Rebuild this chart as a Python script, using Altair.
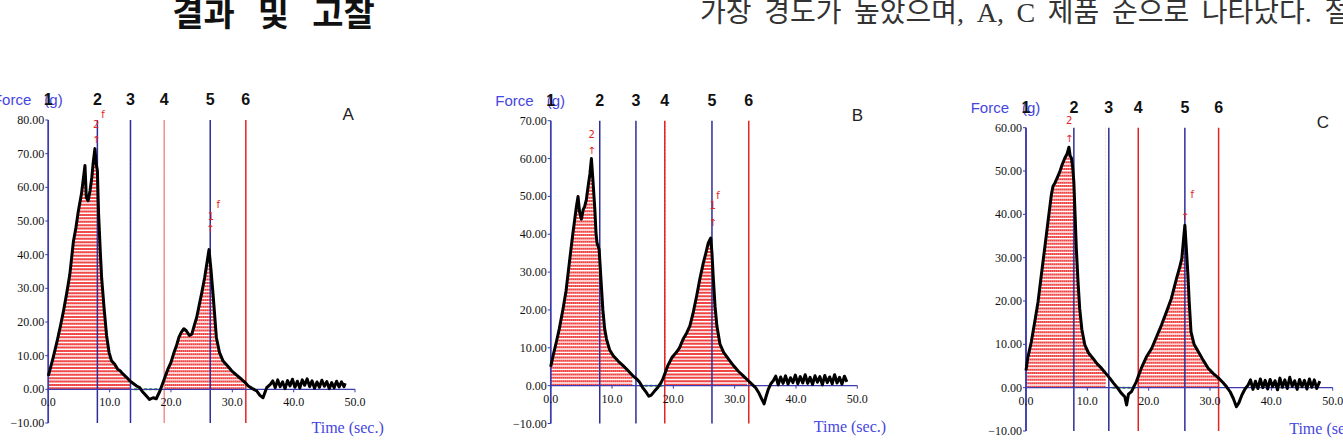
import altair as alt
import numpy as np
import pandas as pd

# ---------------- data ----------------
A_T = [0.0, 0.3, 0.8, 1.4, 2.0, 2.5, 3.0, 3.5, 4.1, 4.5, 4.9, 5.4, 5.98, 6.2, 6.5, 6.8, 7.1, 7.3, 7.6,
       7.8, 8.0, 8.2, 8.5, 8.7, 9.1, 9.5, 9.9, 10.3, 10.8, 11.3, 11.7, 12.2, 12.8, 13.3, 13.8, 14.4,
       14.9, 15.4, 16.0, 16.5, 17.1, 17.6, 18.2, 18.6, 19.0, 19.5, 20.0, 20.4, 20.9, 21.3, 21.7, 22.1,
       22.5, 23.0, 23.4, 23.8, 24.2, 24.6, 25.0, 25.5, 25.9, 26.2, 26.5, 26.9, 27.4, 27.9, 28.5, 29.2,
       29.9, 30.7, 31.5, 32.1, 32.6, 33.2, 34.0, 34.5, 35.0, 35.3, 35.6, 36.2, 36.6, 37.0, 37.4, 37.8,
       38.2, 38.6, 39.0, 39.4, 39.8, 40.2, 40.6, 41.0, 41.4, 41.8, 42.2, 42.6, 43.0, 43.4, 43.8, 44.2,
       44.6, 45.0, 45.4, 45.8, 46.2, 46.6, 47.0, 47.4, 47.8, 48.2, 48.4]
A_V = [4.0, 6.0, 9.5, 14.0, 19.0, 23.5, 28.5, 34.0, 44.0, 48.0, 53.0, 58.0, 66.5, 57.0, 56.0, 59.0, 63.0,
       67.0, 71.5, 67.0, 65.0, 52.0, 40.0, 33.0, 24.0, 16.0, 11.0, 8.5, 7.5, 6.0, 5.5, 4.5, 3.5, 2.5,
       1.8, 1.0, 0.5, -0.8, -2.0, -3.0, -2.5, -2.8, -0.5, 1.5, 3.5, 6.0, 8.0, 10.4, 13.0, 15.5, 17.0,
       18.0, 17.4, 16.0, 16.4, 19.0, 21.4, 25.0, 28.5, 33.3, 38.0, 41.5, 36.0, 27.3, 15.4, 11.0, 8.4,
       7.0, 5.5, 4.2, 3.0, 2.0, 1.0, 0.3, -0.5, -1.8, -2.5, -1.0, 0.5, 1.5, 2.5, 0.5, 2.8, 0.8, 2.2,
       0.2, 2.6, 1.0, 3.0, 0.6, 2.4, 0.4, 2.8, 1.2, 3.1, 0.8, 2.5, 0.3, 2.2, 0.6, 2.7, 0.9, 2.3, 0.2,
       2.0, 0.5, 2.4, 0.7, 2.2, 0.8, 1.8]

B_T = [0.0, 0.4, 0.9, 1.4, 2.0, 2.5, 3.1, 3.6, 4.2, 4.46, 4.7, 5.0, 5.3, 5.55, 5.8, 6.1, 6.4, 6.64, 6.9,
       7.2, 7.4, 7.56, 7.9, 8.2, 8.5, 8.8, 9.1, 9.6, 10.2, 11.0, 11.8, 12.6, 13.4, 14.0, 14.5, 15.0,
       15.6, 16.0, 16.4, 16.9, 17.5, 18.0, 18.3, 18.7, 19.1, 19.8, 20.5, 21.0, 21.6, 22.2, 22.7, 23.2,
       23.8, 24.3, 24.9, 25.3, 25.7, 26.1, 26.3, 26.5, 26.8, 27.1, 27.6, 28.2, 29.0, 29.8, 30.6, 31.4,
       32.1, 32.8, 33.4, 33.9, 34.4, 34.8, 35.1, 35.5, 35.9, 36.3, 36.7, 37.1, 37.5, 37.9, 38.3, 38.7,
       39.1, 39.5, 39.9, 40.3, 40.7, 41.1, 41.5, 41.9, 42.3, 42.7, 43.1, 43.5, 43.9, 44.3, 44.7, 45.1,
       45.5, 45.9, 46.3, 46.7, 47.1, 47.5, 47.9, 48.3]
B_V = [5.0, 8.0, 11.4, 15.0, 20.2, 25.0, 33.3, 40.0, 47.4, 50.0, 46.0, 44.0, 46.5, 47.4, 49.0, 52.6,
       56.0, 60.0, 54.0, 46.5, 40.0, 37.7, 36.0, 28.0, 20.2, 15.0, 12.3, 9.5, 7.9, 6.5, 5.3, 4.0, 2.6,
       1.8, 0.9, -0.5, -1.8, -2.8, -2.5, -1.5, -0.4, 0.8, 1.8, 3.5, 5.3, 7.5, 8.8, 10.0, 12.3, 14.0,
       15.8, 19.0, 23.7, 28.0, 32.5, 35.0, 37.7, 39.0, 35.0, 28.9, 21.0, 15.8, 11.0, 8.8, 7.0, 5.3,
       3.8, 2.6, 1.5, 0.4, -0.5, -1.8, -3.5, -4.8, -3.0, -0.9, 0.5, 1.3, 2.5, 0.2, 2.3, 0.6, 2.6, 0.4,
       2.1, 0.8, 2.8, 0.5, 2.4, 0.7, 2.9, 0.6, 2.2, 0.3, 2.6, 0.9, 2.4, 0.2, 2.7, 0.8, 2.3, 0.5, 2.9,
       0.7, 2.2, 0.4, 2.5, 1.0]

C_T = [0.0, 0.3, 0.87, 1.4, 1.96, 2.5, 3.05, 3.6, 4.13, 4.4, 4.7, 5.1, 5.5, 5.9, 6.3, 6.7, 7.0, 7.2,
       7.4, 7.6, 7.8, 8.0, 8.2, 8.5, 8.75, 9.1, 9.6, 10.2, 10.9, 11.6, 12.3, 13.0, 13.65, 14.3, 15.0,
       15.5, 16.1, 16.4, 16.7, 17.2, 17.6, 18.0, 18.4, 18.8, 19.6, 20.5, 21.3, 22.1, 22.9, 23.7, 24.5,
       25.0, 25.4, 25.65, 25.9, 26.1, 26.4, 26.6, 26.9, 27.4, 28.1, 28.9, 29.7, 30.5, 31.4, 32.1, 32.7,
       33.3, 33.8, 34.3, 34.7, 35.2, 35.7, 36.2, 36.6, 37.0, 37.4, 37.8, 38.2, 38.6, 39.0, 39.4, 39.8,
       40.2, 40.6, 41.0, 41.4, 41.8, 42.2, 42.6, 43.0, 43.4, 43.8, 44.2, 44.6, 45.0, 45.4, 45.8, 46.2,
       46.6, 47.0, 47.4, 47.9]
C_V = [4.0, 7.0, 10.6, 15.0, 19.8, 26.0, 32.2, 38.5, 44.5, 46.5, 47.2, 48.5, 49.8, 51.5, 52.9, 54.0,
       55.5, 53.5, 53.0, 51.0, 47.5, 40.0, 32.2, 24.0, 18.3, 13.5, 9.8, 8.0, 6.8, 5.5, 4.5, 3.3, 2.2,
       1.0, -0.2, -1.2, -2.1, -4.0, -1.5, -0.9, 0.3, 1.4, 3.0, 4.5, 7.0, 9.1, 11.8, 14.5, 17.5, 20.6,
       25.0, 27.5, 29.8, 33.7, 37.5, 33.0, 26.0, 20.0, 12.9, 10.0, 8.3, 6.3, 4.5, 3.3, 2.2, 1.2, 0.2,
       -1.0, -2.5, -4.4, -3.5, -1.7, -0.3, 0.6, 1.8, -0.4, 1.5, -0.2, 2.0, 0.0, 1.7, -0.3, 1.9, 0.2,
       1.6, -0.5, 2.2, 0.1, 1.8, -0.2, 2.4, 0.3, 1.6, -0.4, 1.9, 0.2, 1.7, -0.3, 2.0, 0.1, 1.8, -0.2,
       1.5]

LINE_LABELS = ["1", "2", "3", "4", "5", "6"]
A_LINE_T = [0.0, 8.0, 13.4, 18.9, 26.4, 32.2]
B_LINE_T = [0.0, 8.0, 13.9, 18.6, 26.3, 32.3]
C_LINE_T = [0.0, 7.8, 13.5, 18.3, 25.9, 31.4]
A_TOP, B_TOP, C_TOP = 80, 70, 60
X_TICKS = [0, 10, 20, 30, 40, 50]

# red peak annotations (time, force, text)
A_MARKS = [(7.8, 78.5, "2"), (7.8, 74.0, "↑"), (8.9, 81.5, "f"), (26.5, 51.3, "1"), (26.4, 47.5, "↑"), (27.7, 54.7, "f")]
B_MARKS = [(6.7, 66.3, "2"), (6.7, 62.0, "↑"), (26.4, 47.5, "1"), (26.4, 43.0, "↑"), (27.3, 50.0, "f")]
C_MARKS = [(7.05, 61.5, "2"), (7.05, 57.5, "↑"), (25.9, 39.5, "↑"), (27.1, 44.5, "f")]

GAP = "\u2009 "
HEAD_LEFT = "결과\u00a0\u00a0\u00a0및\u00a0\u00a0\u00a0고찰"
HEAD_RIGHT = GAP.join(["가장", "경도가", "높았으며,", "A,", "C", "제품", "순으로", "나타났다.", "절"])

# ---------------- styles ----------------
NAVY = "#2e2e98"
AXBLUE = "#3c3cb0"
RED = "#e42424"
PINK = "#f29090"
LBLUE = "#4646e0"
HATCH = "#f04444"


def panel(T, V, line_t, line_cols, top, xr, yr, letter_t, time_dy, marks, letter):
    xs = alt.Scale(domain=[0, 50], range=xr, nice=False, zero=False)
    ys = alt.Scale(domain=[-10, top], range=yr, nice=False, zero=False)
    ppu = abs(yr[0] - yr[1]) / (top + 10.0)      # pixels per force unit
    pps = abs(xr[1] - xr[0]) / 50.0              # pixels per second

    def X(f):
        return alt.X(f, type="quantitative", scale=xs, axis=None)

    def Y(f):
        return alt.Y(f, type="quantitative", scale=ys, axis=None, stack=False)

    curve = pd.DataFrame({"t": T, "v": V})

    regions = [(line_t[0], line_t[2]), (line_t[3], line_t[5])]
    masks, hatches = [], []
    for k, (s, e) in enumerate(regions):
        seg = curve[(curve.t >= s) & (curve.t <= e)].copy()
        seg["seg"] = k
        seg["top"] = float(top) + 1.5
        masks.append(seg)
        ts = np.arange(seg.t.min() + 0.1, seg.t.max(), 2.0 / pps)
        hatches.append(pd.DataFrame({"t": ts, "y0": 0.0, "y1": float(top)}))
    mask = pd.concat(masks, ignore_index=True)
    hatch = pd.concat(hatches, ignore_index=True)

    lines = pd.DataFrame({"t": line_t, "y0": -10.0, "y1": float(top), "c": line_cols,
                          "lab": LINE_LABELS, "top": float(top)})
    green = pd.DataFrame({"t0": [line_t[2] + 0.6], "t1": [line_t[3] - 0.4], "y": [0.0]})
    ann = pd.DataFrame(marks, columns=["t", "v", "s"])
    one = pd.DataFrame({"t": [0.0], "v": [float(top)]})
    letter_df = pd.DataFrame({"t": [letter_t], "v": [float(top)], "s": [letter]})
    time_df = pd.DataFrame({"t": [50.0], "v": [-10.0], "s": ["Time (sec.)"]})

    # axis pieces
    y_vals = [float(v) for v in range(-10, top + 1, 10)]
    dom = pd.DataFrame({"t": [0.0, 0.0], "t2": [0.0, 50.0], "v": [-10.0, 0.0], "v2": [float(top), 0.0]})
    yt = pd.DataFrame({"t": 0.0, "t2": -3.0 / pps, "v": y_vals})
    xt = pd.DataFrame({"t": [float(x) for x in X_TICKS], "v": 0.0, "v2": -3.0 / ppu})

    hatch_l = alt.Chart(hatch).mark_rule(color=HATCH, strokeWidth=2.0, strokeDash=[2.0, 1.4]).encode(
        x=X("t"), y=Y("y0"), y2="y1:Q")
    mask_l = alt.Chart(mask).mark_area(color="white", opacity=1).encode(
        x=X("t"), y=Y("v"), y2="top:Q", detail="seg:N")
    green_l = alt.Chart(green).mark_rule(color="#22aa22", strokeWidth=2, strokeDash=[3, 2]).encode(
        x=X("t0"), x2="t1:Q", y=Y("y"))
    vlines = alt.Chart(lines).mark_rule(strokeWidth=1.5).encode(
        x=X("t"), y=Y("y0"), y2="y1:Q", color=alt.Color("c:N", scale=None))
    dom_l = alt.Chart(dom).mark_rule(color=AXBLUE, strokeWidth=1.4).encode(
        x=X("t"), x2="t2:Q", y=Y("v"), y2="v2:Q")
    yt_l = alt.Chart(yt).mark_rule(color=AXBLUE, strokeWidth=1).encode(x=X("t2"), x2="t:Q", y=Y("v"))
    xt_l = alt.Chart(xt).mark_rule(color=AXBLUE, strokeWidth=1).encode(x=X("t"), y=Y("v"), y2="v2:Q")
    ylab = alt.Chart(pd.DataFrame({"t": 0.0, "v": y_vals})).mark_text(
        align="right", dx=-4, baseline="middle", font="Liberation Serif", fontSize=12, color="#111"
    ).encode(x=X("t"), y=Y("v"), text=alt.Text("v:Q", format=".2f"))
    xlab = alt.Chart(pd.DataFrame({"t": [float(x) for x in X_TICKS], "v": 0.0})).mark_text(
        align="center", dy=13, baseline="middle", font="Liberation Serif", fontSize=12, color="#111"
    ).encode(x=X("t"), y=Y("v"), text=alt.Text("t:Q", format=".1f"))
    curve_l = alt.Chart(curve).mark_line(color="black", strokeWidth=3.0, strokeJoin="round").encode(
        x=X("t"), y=Y("v"))
    ann_l = alt.Chart(ann).mark_text(color=RED, fontSize=10, font="DejaVu Sans", baseline="middle").encode(
        x=X("t"), y=Y("v"), text="s:N")
    force_l = alt.Chart(one).mark_text(text="Force", align="right", dx=-17, dy=-20, baseline="middle",
                                       font="Liberation Sans", fontSize=15, color=LBLUE).encode(x=X("t"), y=Y("v"))
    g_l = alt.Chart(one).mark_text(text="(g)", align="left", dx=-4, dy=-20, baseline="middle",
                                   font="Liberation Sans", fontSize=15, color=LBLUE).encode(x=X("t"), y=Y("v"))
    nums = alt.Chart(lines).mark_text(dy=-20, baseline="middle", font="Liberation Sans", fontWeight="bold",
                                      fontSize=16, color="#111").encode(x=X("t"), y=Y("top"), text="lab:N")
    let_l = alt.Chart(letter_df).mark_text(dy=-5, baseline="middle", font="Liberation Sans", fontSize=17,
                                           color="#222").encode(x=X("t"), y=Y("v"), text="s:N")
    time_l = alt.Chart(time_df).mark_text(align="left", dx=-43.5, dy=time_dy, baseline="middle",
                                          font="Liberation Serif", fontSize=16, color=LBLUE).encode(
        x=X("t"), y=Y("v"), text="s:N")

    return alt.layer(hatch_l, mask_l, green_l, vlines, dom_l, yt_l, xt_l, ylab, xlab, curve_l,
                     ann_l, force_l, g_l, nums, let_l, time_l)


pA = panel(A_T, A_V, A_LINE_T, [NAVY, NAVY, NAVY, PINK, NAVY, RED], A_TOP,
           [48.3, 355.0], [423.0, 120.0], 48.9, 5.0, A_MARKS, "A")
pB = panel(B_T, B_V, B_LINE_T, [NAVY, NAVY, NAVY, RED, NAVY, RED], B_TOP,
           [550.7, 857.3], [423.5, 120.7], 50.0, 3.5, B_MARKS, "B")
pC = panel(C_T, C_V, C_LINE_T, [NAVY, NAVY, NAVY, RED, NAVY, RED], C_TOP,
           [1026.0, 1332.7], [431.0, 127.7], 48.4, -2.5, C_MARKS, "C")

head_l = alt.Chart(pd.DataFrame({"s": [HEAD_LEFT]})).mark_text(
    font="Noto Sans CJK KR", fontWeight="bold", fontSize=34, color="#111", baseline="middle", align="center"
).encode(x=alt.value(273.5), y=alt.value(16), text="s:N")
head_r = alt.Chart(pd.DataFrame({"s": [HEAD_RIGHT]})).mark_text(
    font="Liberation Serif, Noto Sans CJK KR", fontSize=28, color="#333", baseline="middle", align="left"
).encode(x=alt.value(700), y=alt.value(14), text="s:N")

chart = alt.layer(pA, pB, pC, head_l, head_r).resolve_scale(
    x="independent", y="independent"
).properties(
    width=1343, height=447, autosize=alt.AutoSizeParams(type="none"), padding=0
).configure_view(stroke=None)

chart.save("out.html", embed_options={"renderer": "svg", "actions": False})
